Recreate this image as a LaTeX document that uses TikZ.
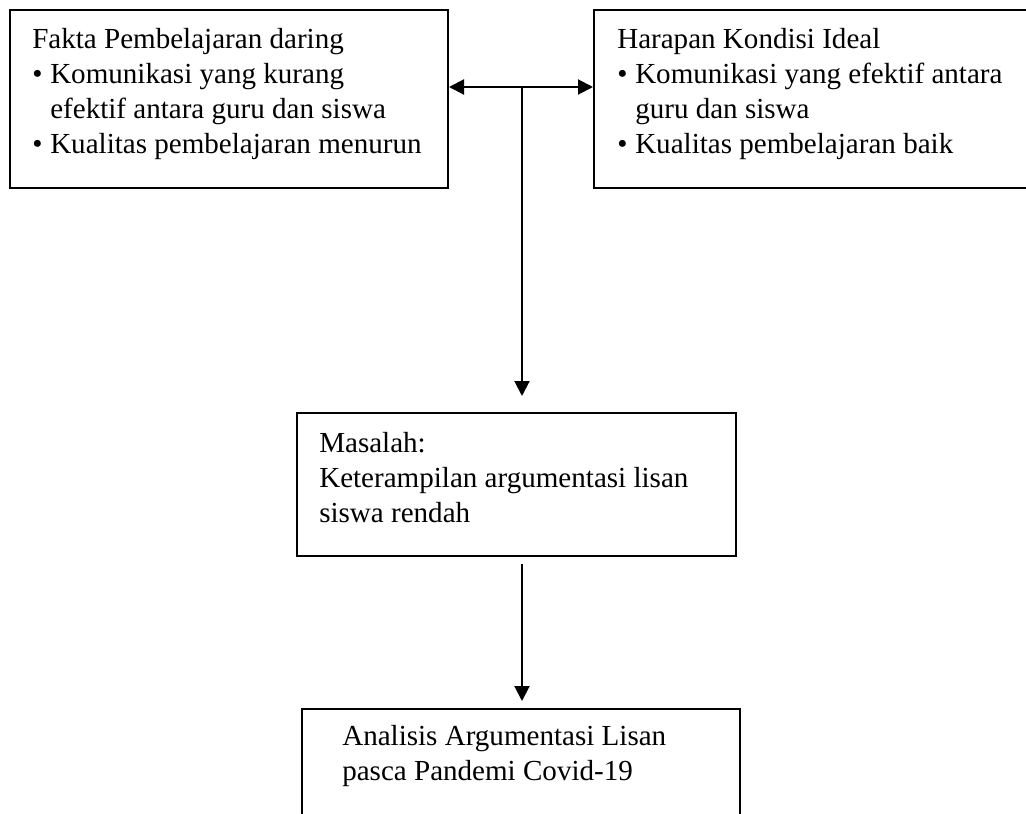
\documentclass[tikz,border=0pt]{standalone}
\usepackage{fontspec}
\setmainfont{Liberation Serif}
\usetikzlibrary{arrows.meta,fit,calc}
\newcommand{\bul}{\makebox[13.5pt][l]{\textbullet}}
\newcommand{\ind}{\hspace*{13.5pt}}
\newcommand{\lines}[1]{\parbox[t]{12cm}{\raggedright #1}}
\begin{document}
\begin{tikzpicture}[x=0.75pt,y=-0.75pt,
  box/.style={draw,line width=1.5pt,inner sep=0pt},
  txt/.style={anchor=base west,inner sep=0pt,font=\fontsize{21.8pt}{26.25pt}\selectfont},
  link/.style={line width=1.5pt},
  tipstyle/.style={Triangle[length=11.25pt,width=11.25pt]}]
\useasboundingbox (0,0) rectangle (1026,814);
\clip (0,0) rectangle (1026,814);
% boxes
\node[box,fit={(10,10) (448,188)}] (fakta) {};
\node[box,fit={(594,10) (1040,188)}] (harapan) {};
\node[box,fit={(297,413) (736,556)}] (masalah) {};
\node[box,fit={(302,709) (740,840)}] (analisis) {};
% texts
\node[txt] (faktatxt) at (32,48) {\lines{Fakta Pembelajaran daring\\
\bul Komunikasi yang kurang\\
\ind efektif antara guru dan siswa\\
\bul Kualitas pembelajaran menurun}};
\node[txt] (harapantxt) at (617,48) {\lines{Harapan Kondisi Ideal\\
\bul Komunikasi yang efektif antara\\
\ind guru dan siswa\\
\bul Kualitas pembelajaran baik}};
\node[txt] (masalahtxt) at (319,452) {\lines{Masalah:\\
Keterampilan argumentasi lisan\\
siswa rendah}};
\node[txt] (analisistxt) at (342,745) {\lines{Analisis Argumentasi Lisan\\
pasca Pandemi Covid-19}};
% connectors
\coordinate (j) at (522,87);
\draw[link,{Triangle[length=11.25pt,width=11.25pt]}-{Triangle[length=11.25pt,width=11.25pt]}]
  (fakta.east |- j) -- (harapan.west |- j);
\draw[link,-{Triangle[length=11.25pt,width=11.25pt]},shorten >=12pt]
  (j) -- (j |- masalah.north);
\draw[link,-{Triangle[length=11.25pt,width=11.25pt]},shorten <=5.25pt,shorten >=5.25pt]
  (j |- masalah.south) -- (j |- analisis.north);
\end{tikzpicture}
\end{document}
